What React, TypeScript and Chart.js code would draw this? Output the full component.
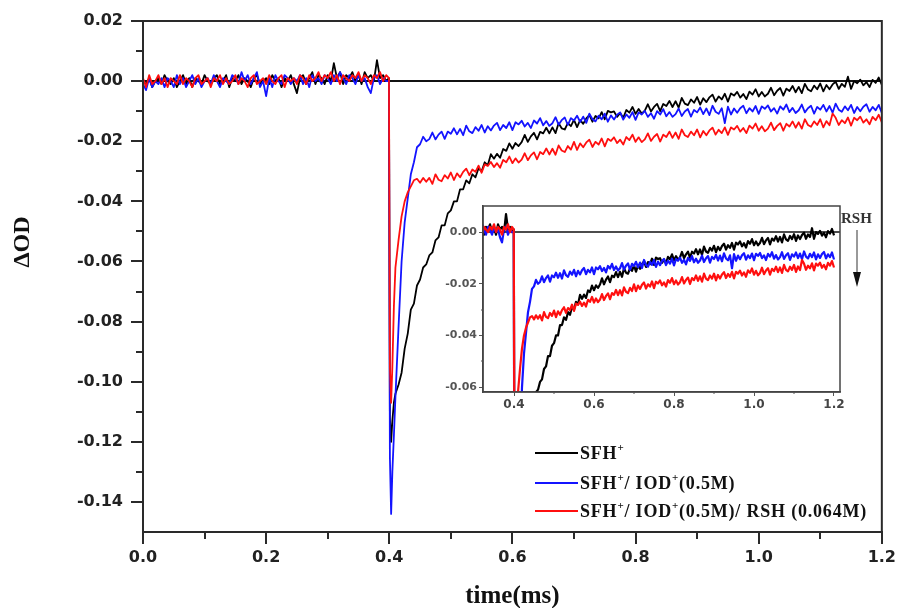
import React, { useEffect, useRef } from 'react';
import { Chart, registerables } from 'chart.js';
Chart.register(...registerables);

// ---------- labels / ticks ----------
const SERIES_LABELS = ['SFH⁺', 'SFH⁺/ IOD⁺(0.5M)', 'SFH⁺/ IOD⁺(0.5M)/ RSH (0.064M)'];
const SERIES_COLORS = ['#000000', '#1414ff', '#ff0f0f'];
const X_TICKS = [0.0, 0.2, 0.4, 0.6, 0.8, 1.0, 1.2];
const X_MINOR = [0.1, 0.3, 0.5, 0.7, 0.9, 1.1];
const Y_TICKS = [-0.14, -0.12, -0.1, -0.08, -0.06, -0.04, -0.02, 0.0, 0.02];
const Y_MINOR = [-0.13, -0.11, -0.09, -0.07, -0.05, -0.03, -0.01, 0.01];
const INSET_X_TICKS = [0.4, 0.6, 0.8, 1.0, 1.2];
const INSET_X_MINOR = [0.5, 0.7, 0.9, 1.1];
const INSET_Y_TICKS = [-0.06, -0.04, -0.02, 0.0];
const INSET_Y_MINOR = [-0.05, -0.03, -0.01];

// ---------- sampling times (ms) ----------
const BASE_COUNT = 80;      // 0.000 .. 0.395 every 0.005
const DROP_TIMES = [0.3995, 0.401, 0.403, 0.405, 0.4075, 0.41];
const TAIL_START = 0.415;   // 0.415 .. 1.200 every 0.005
const TAIL_COUNT = 158;
const STEP = 0.005;

// ---------- ΔOD values: SFH+ (black) ----------
const blackBase = [
  0.000, -0.001, 0.001, -0.002, 0.000, 0.001, -0.001, 0.002, 0.000, -0.001,
  0.001, -0.002, 0.000, 0.002, -0.001, 0.001, -0.002, 0.001, 0.000, -0.001,
  0.002, 0.000, -0.001, 0.001, 0.002, -0.001, 0.000, 0.002, -0.002, 0.001,
  0.000, 0.002, -0.001, 0.001, 0.000, -0.002, 0.001, 0.002, -0.001, 0.000,
  0.001, -0.001, 0.002, 0.000, 0.001, -0.002, 0.001, 0.000, 0.002, -0.001,
  -0.004, 0.001, 0.002, -0.001, 0.001, 0.003, -0.001, 0.002, 0.001, -0.001,
  0.002, 0.000, 0.006, 0.001, 0.003, -0.001, 0.002, 0.001, 0.003, 0.000,
  0.002, -0.001, 0.003, 0.001, 0.002, 0.000, 0.007, 0.001, 0.002, 0.000,
];
const blackDrop = [0.001, -0.112, -0.120, -0.113, -0.107, -0.104];
const blackTail = [
  -0.101, -0.097, -0.089, -0.084, -0.076, -0.074, -0.068, -0.066, -0.062, -0.061,
  -0.058, -0.057, -0.053, -0.052, -0.048, -0.048, -0.044, -0.043, -0.040, -0.040,
  -0.036, -0.036, -0.033, -0.034, -0.031, -0.032, -0.029, -0.030, -0.027, -0.028,
  -0.0243, -0.0258, -0.0242, -0.0255, -0.0226, -0.0232, -0.0207, -0.0225, -0.0206, -0.0216,
  -0.0203, -0.0179, -0.0202, -0.0184, -0.0172, -0.0194, -0.0169, -0.0174, -0.0155, -0.0174,
  -0.0154, -0.0173, -0.0140, -0.0157, -0.0161, -0.0140, -0.0150, -0.0129, -0.0153, -0.0130,
  -0.0142, -0.0124, -0.0113, -0.0135, -0.0116, -0.0124, -0.0103, -0.0127, -0.0099, -0.0104,
  -0.0101, -0.0119, -0.0106, -0.0122, -0.0096, -0.0105, -0.0086, -0.0109, -0.0093, -0.0108,
  -0.0098, -0.0077, -0.0101, -0.0086, -0.0076, -0.0100, -0.0076, -0.0083, -0.0066, -0.0086,
  -0.0067, -0.0088, -0.0056, -0.0075, -0.0080, -0.0061, -0.0072, -0.0053, -0.0078, -0.0057,
  -0.0070, -0.0054, -0.0045, -0.0068, -0.0051, -0.0061, -0.0042, -0.0068, -0.0041, -0.0048,
  -0.0036, -0.0055, -0.0043, -0.0060, -0.0035, -0.0045, -0.0027, -0.0051, -0.0036, -0.0051,
  -0.0042, -0.0022, -0.0047, -0.0032, -0.0023, -0.0048, -0.0025, -0.0033, -0.0016, -0.0037,
  -0.0019, -0.0040, -0.0009, -0.0028, -0.0034, -0.0015, -0.0027, -0.0008, -0.0034, -0.0013,
  -0.0027, -0.0011, -0.0002, -0.0026, -0.0009, -0.0019, 0.0015, -0.0026, 0.0000, -0.0007,
  0.0005, -0.0014, -0.0003, -0.0020, 0.0004, -0.0006, 0.0012, -0.0013,
];

// ---------- ΔOD values: SFH+/IOD+ (blue) ----------
const blueBase = [
  -0.001, -0.003, 0.001, -0.002, 0.000, -0.001, 0.001, -0.002, 0.001, 0.000,
  -0.002, 0.002, -0.001, 0.001, -0.002, 0.000, 0.002, -0.001, 0.001, -0.002,
  0.000, 0.001, -0.001, 0.002, 0.000, -0.002, 0.001, 0.000, -0.001, 0.002,
  0.001, -0.001, 0.003, 0.000, 0.002, -0.001, 0.001, 0.003, -0.002, 0.000,
  -0.005, 0.001, -0.002, 0.002, 0.000, -0.001, 0.002, 0.001, -0.001, 0.001,
  0.000, 0.002, -0.001, 0.001, -0.002, 0.002, 0.000, 0.001, -0.001, 0.002,
  0.001, -0.001, 0.002, 0.000, 0.003, 0.001, -0.001, 0.002, 0.001, -0.001,
  0.002, 0.000, 0.001, -0.002, -0.004, 0.001, 0.002, -0.001, 0.001, 0.000,
];
const blueDrop = [0.000, -0.125, -0.144, -0.130, -0.118, -0.105];
const blueTail = [
  -0.082, -0.060, -0.047, -0.039, -0.031, -0.027, -0.022, -0.021, -0.0185, -0.0200,
  -0.0193, -0.0171, -0.0194, -0.0178, -0.0168, -0.0192, -0.0168, -0.0175, -0.0157, -0.0177,
  -0.0159, -0.0180, -0.0148, -0.0167, -0.0173, -0.0153, -0.0165, -0.0146, -0.0171, -0.0150,
  -0.0164, -0.0148, -0.0139, -0.0163, -0.0146, -0.0156, -0.0137, -0.0163, -0.0137, -0.0144,
  -0.0132, -0.0151, -0.0139, -0.0156, -0.0131, -0.0141, -0.0123, -0.0147, -0.0133, -0.0149,
  -0.0140, -0.0120, -0.0145, -0.0130, -0.0121, -0.0146, -0.0123, -0.0131, -0.0115, -0.0136,
  -0.0118, -0.0139, -0.0108, -0.0127, -0.0134, -0.0115, -0.0127, -0.0108, -0.0135, -0.0114,
  -0.0128, -0.0112, -0.0104, -0.0128, -0.0111, -0.0122, -0.0103, -0.0129, -0.0104, -0.0111,
  -0.0099, -0.0119, -0.0107, -0.0125, -0.0100, -0.0111, -0.0093, -0.0117, -0.0103, -0.0119,
  -0.0110, -0.0091, -0.0116, -0.0101, -0.0093, -0.0118, -0.0096, -0.0104, -0.0088, -0.0110,
  -0.0091, -0.0113, -0.0082, -0.0102, -0.0109, -0.0090, -0.0140, -0.0085, -0.0111, -0.0091,
  -0.0105, -0.0090, -0.0082, -0.0107, -0.0090, -0.0101, -0.0083, -0.0109, -0.0084, -0.0092,
  -0.0081, -0.0101, -0.0090, -0.0108, -0.0084, -0.0095, -0.0078, -0.0103, -0.0089, -0.0106,
  -0.0097, -0.0078, -0.0104, -0.0090, -0.0082, -0.0108, -0.0086, -0.0095, -0.0079, -0.0101,
  -0.0083, -0.0105, -0.0075, -0.0095, -0.0102, -0.0084, -0.0097, -0.0079, -0.0106, -0.0086,
  -0.0100, -0.0085, -0.0077, -0.0102, -0.0086, -0.0097, -0.0079, -0.0106,
];

// ---------- ΔOD values: SFH+/IOD+/RSH (red) ----------
const redBase = [
  0.001, -0.002, 0.002, -0.001, 0.000, 0.002, -0.001, 0.001, -0.002, 0.001,
  0.000, -0.001, 0.002, -0.001, 0.001, 0.000, -0.002, 0.001, 0.002, -0.001,
  0.000, 0.001, -0.002, 0.001, 0.000, 0.002, -0.001, 0.001, -0.001, 0.000,
  0.002, -0.001, 0.001, 0.000, -0.002, 0.001, 0.002, -0.001, 0.000, 0.001,
  -0.001, 0.002, 0.000, -0.001, 0.001, 0.002, -0.002, 0.001, 0.000, 0.001,
  -0.001, 0.002, 0.001, -0.001, 0.002, 0.000, 0.001, 0.003, 0.000, 0.002,
  0.001, 0.003, 0.000, 0.002, -0.001, 0.002, 0.001, 0.000, 0.002, 0.001,
  0.003, 0.000, 0.002, 0.001, -0.001, 0.002, 0.001, 0.003, 0.000, 0.002,
];
const redDrop = [0.001, -0.095, -0.107, -0.095, -0.075, -0.062];
const redTail = [
  -0.053, -0.045, -0.040, -0.037, -0.035, -0.033, -0.0325, -0.0338, -0.0322, -0.0335,
  -0.0322, -0.0342, -0.0310, -0.0328, -0.0333, -0.0313, -0.0324, -0.0304, -0.0329, -0.0307,
  -0.0320, -0.0302, -0.0291, -0.0313, -0.0294, -0.0302, -0.0281, -0.0305, -0.0277, -0.0282,
  -0.0269, -0.0286, -0.0273, -0.0288, -0.0262, -0.0270, -0.0251, -0.0273, -0.0257, -0.0271,
  -0.0261, -0.0240, -0.0263, -0.0247, -0.0237, -0.0260, -0.0236, -0.0243, -0.0224, -0.0244,
  -0.0225, -0.0245, -0.0214, -0.0231, -0.0236, -0.0216, -0.0228, -0.0202, -0.0229, -0.0207,
  -0.0220, -0.0204, -0.0195, -0.0219, -0.0202, -0.0211, -0.0191, -0.0217, -0.0192, -0.0199,
  -0.0187, -0.0206, -0.0195, -0.0211, -0.0186, -0.0196, -0.0178, -0.0202, -0.0187, -0.0203,
  -0.0194, -0.0174, -0.0199, -0.0185, -0.0176, -0.0201, -0.0178, -0.0186, -0.0168, -0.0189,
  -0.0171, -0.0192, -0.0161, -0.0180, -0.0186, -0.0168, -0.0180, -0.0161, -0.0187, -0.0166,
  -0.0180, -0.0164, -0.0155, -0.0178, -0.0162, -0.0173, -0.0154, -0.0179, -0.0154, -0.0161,
  -0.0149, -0.0168, -0.0156, -0.0173, -0.0148, -0.0158, -0.0141, -0.0165, -0.0150, -0.0167,
  -0.0158, -0.0138, -0.0163, -0.0149, -0.0140, -0.0165, -0.0142, -0.0151, -0.0134, -0.0155,
  -0.0137, -0.0158, -0.0127, -0.0146, -0.0152, -0.0134, -0.0146, -0.0127, -0.0154, -0.0133,
  -0.0147, -0.0108, -0.0122, -0.0146, -0.0130, -0.0140, -0.0121, -0.0148, -0.0122, -0.0130,
  -0.0118, -0.0138, -0.0127, -0.0144, -0.0119, -0.0130, -0.0112, -0.0137,
];

// ---------- helpers ----------
function buildTimes(): number[] {
  const t: number[] = [];
  for (let i = 0; i < BASE_COUNT; i++) t.push(+(i * STEP).toFixed(4));
  DROP_TIMES.forEach((v) => t.push(v));
  for (let j = 0; j < TAIL_COUNT; j++) t.push(+(TAIL_START + j * STEP).toFixed(4));
  return t;
}

const TICK_FONT = { family: 'DejaVu Sans', weight: 'bold' as const, size: 16 };
const AXIS_COLOR = '#2a2a2a';

function drawRich(ctx: CanvasRenderingContext2D, label: string, x: number, y: number, size: number) {
  const parts = label.split('⁺');
  let cx = x;
  parts.forEach((p, i) => {
    ctx.font = `bold ${size}px "Liberation Serif"`;
    ctx.fillText(p, cx, y);
    cx += ctx.measureText(p).width;
    if (i < parts.length - 1) {
      ctx.font = `bold ${Math.round(size * 0.6)}px "Liberation Serif"`;
      ctx.fillText('+', cx, y - size * 0.42);
      cx += ctx.measureText('+').width;
    }
  });
}

function drawMinor(ctx: CanvasRenderingContext2D, chart: any, xs: number[], ys: number[], len: number, lw: number, color: string) {
  const { chartArea: a, scales } = chart;
  ctx.save();
  ctx.strokeStyle = color;
  ctx.lineWidth = lw;
  ctx.beginPath();
  xs.forEach((v) => {
    const px = Math.round(scales.x.getPixelForValue(v));
    ctx.moveTo(px, a.bottom);
    ctx.lineTo(px, a.bottom + len);
  });
  ys.forEach((v) => {
    const py = Math.round(scales.y.getPixelForValue(v));
    ctx.moveTo(a.left - len, py);
    ctx.lineTo(a.left, py);
  });
  ctx.stroke();
  ctx.restore();
}

function zeroLine(chart: any, lw: number) {
  const { ctx, chartArea: a, scales } = chart;
  const y0 = scales.y.getPixelForValue(0);
  ctx.save();
  ctx.strokeStyle = '#111';
  ctx.lineWidth = lw;
  ctx.beginPath();
  ctx.moveTo(a.left, y0);
  ctx.lineTo(a.right, y0);
  ctx.stroke();
  ctx.restore();
}

function frame(chart: any, lw: number, color: string) {
  const { ctx, chartArea: a } = chart;
  ctx.save();
  ctx.strokeStyle = color;
  ctx.lineWidth = lw;
  ctx.strokeRect(a.left, a.top, a.right - a.left, a.bottom - a.top);
  ctx.restore();
}

const mainDecor = {
  id: 'mainDecor',
  beforeDatasetsDraw(chart: any) {
    zeroLine(chart, 2);
  },
  afterDraw(chart: any) {
    const { ctx, chartArea: a } = chart;
    frame(chart, 2, AXIS_COLOR);
    drawMinor(ctx, chart, X_MINOR, Y_MINOR, 7, 2, AXIS_COLOR);

    ctx.save();
    ctx.fillStyle = '#111';
    // y title
    ctx.save();
    ctx.translate(23, 242);
    ctx.rotate(-Math.PI / 2);
    ctx.font = 'bold 24px "Liberation Serif"';
    ctx.textAlign = 'center';
    ctx.textBaseline = 'middle';
    ctx.fillText('ΔOD', 0, 0);
    ctx.restore();
    // x title
    ctx.font = 'bold 25px "Liberation Serif"';
    ctx.textAlign = 'center';
    ctx.textBaseline = 'alphabetic';
    ctx.fillText('time(ms)', (a.left + a.right) / 2, 603);

    // legend
    const rows = [453, 483, 511];
    ctx.textAlign = 'left';
    rows.forEach((ry, k) => {
      ctx.strokeStyle = SERIES_COLORS[k];
      ctx.lineWidth = 2;
      ctx.beginPath();
      ctx.moveTo(535, ry);
      ctx.lineTo(578, ry);
      ctx.stroke();
      ctx.fillStyle = '#111';
      (ctx as any).letterSpacing = '0.8px';
      drawRich(ctx, SERIES_LABELS[k], 580, ry + 6, 18);
      (ctx as any).letterSpacing = '0px';
    });

    // RSH arrow
    ctx.fillStyle = '#333';
    ctx.font = 'bold 15px "Liberation Serif"';
    ctx.fillText('RSH', 841, 223);
    ctx.strokeStyle = '#777';
    ctx.lineWidth = 1.5;
    ctx.beginPath();
    ctx.moveTo(857, 230);
    ctx.lineTo(857, 276);
    ctx.stroke();
    ctx.fillStyle = '#111';
    ctx.beginPath();
    ctx.moveTo(853, 272);
    ctx.lineTo(861, 272);
    ctx.lineTo(857, 287);
    ctx.closePath();
    ctx.fill();
    ctx.restore();
  },
};

const insetDecor = {
  id: 'insetDecor',
  beforeDatasetsDraw(chart: any) {
    zeroLine(chart, 1.5);
  },
  afterDraw(chart: any) {
    frame(chart, 1.5, '#444');
    drawMinor(chart.ctx, chart, INSET_X_MINOR, INSET_Y_MINOR, 2, 1, '#555');
  },
};

export default function App() {
  const mainRef = useRef<HTMLCanvasElement>(null);
  const insetRef = useRef<HTMLCanvasElement>(null);

  useEffect(() => {
    document.body.style.margin = '0';
    const times = buildTimes();
    const series = [
      [...blackBase, ...blackDrop, ...blackTail],
      [...blueBase, ...blueDrop, ...blueTail],
      [...redBase, ...redDrop, ...redTail],
    ];
    const makeDatasets = (bw: number) =>
      series.map((vals, k) => ({
        label: SERIES_LABELS[k],
        data: times.map((t, i) => ({ x: t, y: vals[i] })),
        borderColor: SERIES_COLORS[k],
        backgroundColor: SERIES_COLORS[k],
        borderWidth: bw,
        borderJoinStyle: 'round' as const,
        pointRadius: 0,
        tension: 0,
        fill: false,
        order: 3 - k,
      }));

    const main = new Chart(mainRef.current!, {
      type: 'line',
      data: { datasets: makeDatasets(1.8) },
      options: {
        responsive: false,
        animation: false,
        devicePixelRatio: 1,
        layout: { padding: { top: 21, right: 16, left: 0, bottom: 0 } },
        plugins: { legend: { display: false }, tooltip: { enabled: false } },
        scales: {
          x: {
            type: 'linear',
            min: 0,
            max: 1.2,
            afterBuildTicks: (s: any) => { s.ticks = X_TICKS.map((v) => ({ value: v })); },
            afterFit: (s: any) => { s.height = 76; },
            ticks: {
              callback: (v: any) => Number(v).toFixed(1),
              font: TICK_FONT,
              color: '#222',
              padding: 4,
              maxRotation: 0,
              autoSkip: false,
            },
            grid: { display: true, drawOnChartArea: false, drawTicks: true, tickLength: 12, lineWidth: 2, color: AXIS_COLOR },
            border: { display: true, width: 2, color: AXIS_COLOR },
          },
          y: {
            type: 'linear',
            min: -0.15,
            max: 0.02,
            afterBuildTicks: (s: any) => { s.ticks = Y_TICKS.map((v) => ({ value: v })); },
            afterFit: (s: any) => { s.width = 143; },
            ticks: {
              callback: (v: any) => Number(v).toFixed(2),
              font: TICK_FONT,
              color: '#222',
              padding: 8,
              autoSkip: false,
            },
            grid: { display: true, drawOnChartArea: false, drawTicks: true, tickLength: 12, lineWidth: 2, color: AXIS_COLOR },
            border: { display: true, width: 2, color: AXIS_COLOR },
          },
        },
      },
      plugins: [mainDecor],
    });

    const inset = new Chart(insetRef.current!, {
      type: 'line',
      data: { datasets: makeDatasets(2.2) },
      options: {
        responsive: false,
        animation: false,
        devicePixelRatio: 1,
        layout: { padding: { top: 16, right: 20, left: 0, bottom: 0 } },
        plugins: { legend: { display: false }, tooltip: { enabled: false } },
        scales: {
          x: {
            type: 'linear',
            min: 0.3225,
            max: 1.215,
            afterBuildTicks: (s: any) => { s.ticks = INSET_X_TICKS.map((v) => ({ value: v })); },
            afterFit: (s: any) => { s.height = 23; },
            ticks: {
              callback: (v: any) => Number(v).toFixed(1),
              font: { family: 'DejaVu Sans', weight: 'bold', size: 12 },
              color: '#444',
              padding: 2,
              maxRotation: 0,
              autoSkip: false,
            },
            grid: { display: true, drawOnChartArea: false, drawTicks: true, tickLength: 4, lineWidth: 1, color: '#555' },
            border: { display: true, width: 1.5, color: '#444' },
          },
          y: {
            type: 'linear',
            min: -0.0619,
            max: 0.0101,
            afterBuildTicks: (s: any) => { s.ticks = INSET_Y_TICKS.map((v) => ({ value: v })); },
            afterFit: (s: any) => { s.width = 43; },
            ticks: {
              callback: (v: any) => Number(v).toFixed(2),
              font: { family: 'DejaVu Sans', weight: 'bold', size: 11 },
              color: '#555',
              padding: 2,
              autoSkip: false,
            },
            grid: { display: true, drawOnChartArea: false, drawTicks: true, tickLength: 4, lineWidth: 1, color: '#555' },
            border: { display: true, width: 1.5, color: '#444' },
          },
        },
      },
      plugins: [insetDecor],
    });

    return () => {
      main.destroy();
      inset.destroy();
    };
  }, []);

  return (
    <div style={{ position: 'absolute', left: 0, top: 0, width: 900, height: 608, background: '#fff' }}>
      <canvas ref={mainRef} width={900} height={608} style={{ position: 'absolute', left: 0, top: 0, width: 900, height: 608 }} />
      <canvas ref={insetRef} width={420} height={225} style={{ position: 'absolute', left: 440, top: 190, width: 420, height: 225 }} />
    </div>
  );
}
